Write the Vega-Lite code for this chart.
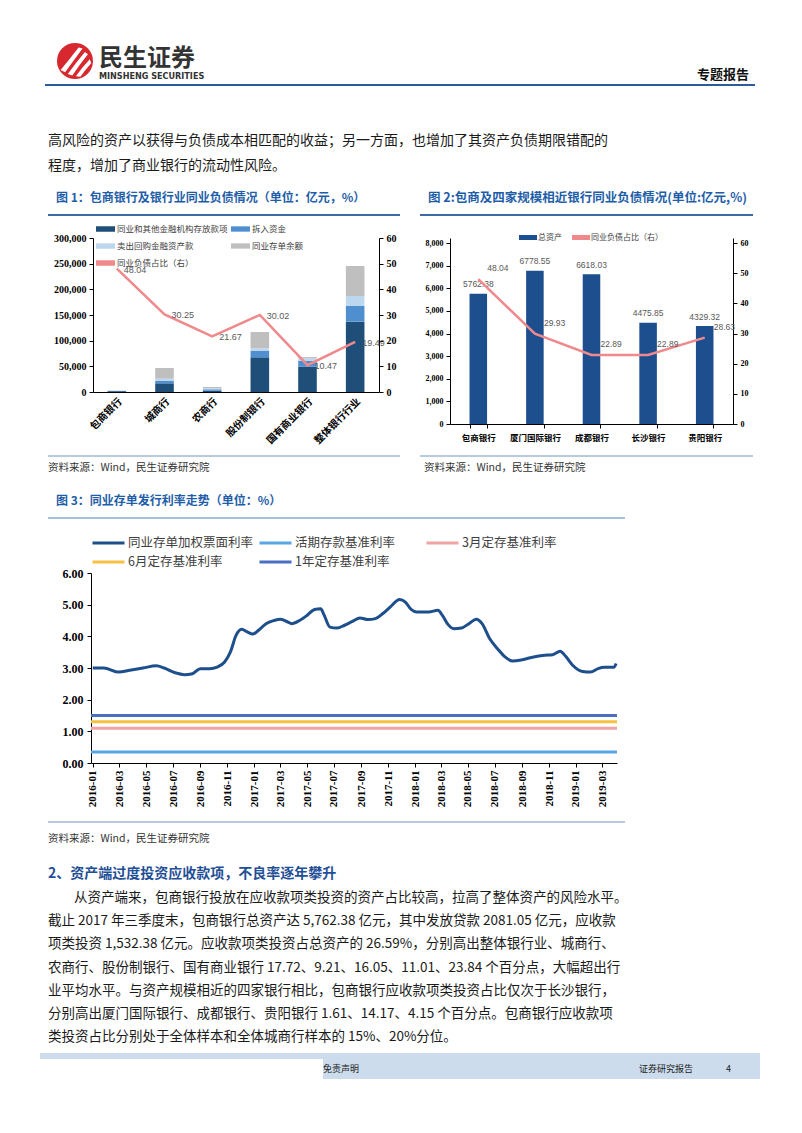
{
"$schema": "https://vega.github.io/schema/vega-lite/v6.json",
"background": "white",
"padding": 0,
"spacing": 0,
"resolve": {"scale": {"color": "independent"}, "legend": {"color": "independent"}},
"config": {"view": {"stroke": null}, "concat": {"spacing": 0}, "font": "Noto Sans CJK SC"},
"datasets": {
 "c1bars": [
  {"bank": "包商银行", "s": "同业和其他金融机构存放款项", "k": 1, "v": 1600},
  {"bank": "包商银行", "s": "拆入资金", "k": 2, "v": 500},
  {"bank": "包商银行", "s": "卖出回购金融资产款", "k": 3, "v": 400},
  {"bank": "包商银行", "s": "同业存单余额", "k": 4, "v": 270},
  {"bank": "城商行", "s": "同业和其他金融机构存放款项", "k": 1, "v": 16900},
  {"bank": "城商行", "s": "拆入资金", "k": 2, "v": 4500},
  {"bank": "城商行", "s": "卖出回购金融资产款", "k": 3, "v": 4500},
  {"bank": "城商行", "s": "同业存单余额", "k": 4, "v": 20800},
  {"bank": "农商行", "s": "同业和其他金融机构存放款项", "k": 1, "v": 2500},
  {"bank": "农商行", "s": "拆入资金", "k": 2, "v": 2700},
  {"bank": "农商行", "s": "卖出回购金融资产款", "k": 3, "v": 2000},
  {"bank": "农商行", "s": "同业存单余额", "k": 4, "v": 2500},
  {"bank": "股份制银行", "s": "同业和其他金融机构存放款项", "k": 1, "v": 67600},
  {"bank": "股份制银行", "s": "拆入资金", "k": 2, "v": 12300},
  {"bank": "股份制银行", "s": "卖出回购金融资产款", "k": 3, "v": 5200},
  {"bank": "股份制银行", "s": "同业存单余额", "k": 4, "v": 31800},
  {"bank": "国有商业银行", "s": "同业和其他金融机构存放款项", "k": 1, "v": 49300},
  {"bank": "国有商业银行", "s": "拆入资金", "k": 2, "v": 11700},
  {"bank": "国有商业银行", "s": "卖出回购金融资产款", "k": 3, "v": 4600},
  {"bank": "国有商业银行", "s": "同业存单余额", "k": 4, "v": 2500},
  {"bank": "整体银行行业", "s": "同业和其他金融机构存放款项", "k": 1, "v": 137000},
  {"bank": "整体银行行业", "s": "拆入资金", "k": 2, "v": 30500},
  {"bank": "整体银行行业", "s": "卖出回购金融资产款", "k": 3, "v": 19500},
  {"bank": "整体银行行业", "s": "同业存单余额", "k": 4, "v": 58500}
 ],
 "c1line": [
  {"bank": "包商银行", "p": 48.04},
  {"bank": "城商行", "p": 30.25},
  {"bank": "农商行", "p": 21.67},
  {"bank": "股份制银行", "p": 30.02},
  {"bank": "国有商业银行", "p": 10.47},
  {"bank": "整体银行行业", "p": 19.49}
 ],
 "c2": [
  {"bank": "包商银行", "a": 5762.38, "p": 48.04},
  {"bank": "厦门国际银行", "a": 6778.55, "p": 29.93},
  {"bank": "成都银行", "a": 6618.03, "p": 22.89},
  {"bank": "长沙银行", "a": 4475.85, "p": 22.89},
  {"bank": "贵阳银行", "a": 4329.32, "p": 28.63}
 ],
 "c3flat": [
  {"s": "活期存款基准利率", "r": 0.35},
  {"s": "3月定存基准利率", "r": 1.10},
  {"s": "6月定存基准利率", "r": 1.30},
  {"s": "1年定存基准利率", "r": 1.50}
 ],
 "c3line": [
  {"d": "2016-01-01", "r": 3.00}, {"d": "2016-01-26", "r": 3.00}, {"d": "2016-02-29", "r": 2.87},
  {"d": "2016-03-25", "r": 2.93}, {"d": "2016-04-24", "r": 3.00}, {"d": "2016-05-24", "r": 3.07},
  {"d": "2016-06-11", "r": 3.00}, {"d": "2016-07-06", "r": 2.85}, {"d": "2016-07-27", "r": 2.79},
  {"d": "2016-08-14", "r": 2.82}, {"d": "2016-09-01", "r": 2.98}, {"d": "2016-09-22", "r": 2.98},
  {"d": "2016-10-09", "r": 3.03}, {"d": "2016-10-26", "r": 3.19}, {"d": "2016-11-08", "r": 3.50},
  {"d": "2016-11-21", "r": 4.03}, {"d": "2016-12-04", "r": 4.22}, {"d": "2016-12-16", "r": 4.14},
  {"d": "2016-12-29", "r": 4.07}, {"d": "2017-01-11", "r": 4.19}, {"d": "2017-01-28", "r": 4.40},
  {"d": "2017-02-15", "r": 4.50}, {"d": "2017-03-02", "r": 4.54}, {"d": "2017-03-19", "r": 4.45},
  {"d": "2017-03-27", "r": 4.40}, {"d": "2017-04-14", "r": 4.50}, {"d": "2017-05-01", "r": 4.66},
  {"d": "2017-05-18", "r": 4.85}, {"d": "2017-06-01", "r": 4.87}, {"d": "2017-06-09", "r": 4.66},
  {"d": "2017-06-22", "r": 4.29}, {"d": "2017-07-08", "r": 4.26}, {"d": "2017-07-25", "r": 4.35},
  {"d": "2017-08-12", "r": 4.47}, {"d": "2017-08-29", "r": 4.58}, {"d": "2017-09-16", "r": 4.53},
  {"d": "2017-10-03", "r": 4.56}, {"d": "2017-10-20", "r": 4.72}, {"d": "2017-11-06", "r": 4.93},
  {"d": "2017-11-27", "r": 5.16}, {"d": "2017-12-10", "r": 5.08}, {"d": "2017-12-23", "r": 4.85},
  {"d": "2018-01-05", "r": 4.77}, {"d": "2018-02-01", "r": 4.77}, {"d": "2018-02-22", "r": 4.82},
  {"d": "2018-03-04", "r": 4.66}, {"d": "2018-03-17", "r": 4.37}, {"d": "2018-03-30", "r": 4.24},
  {"d": "2018-04-16", "r": 4.26}, {"d": "2018-05-03", "r": 4.40}, {"d": "2018-05-20", "r": 4.54},
  {"d": "2018-06-02", "r": 4.40}, {"d": "2018-06-19", "r": 3.93}, {"d": "2018-07-07", "r": 3.61},
  {"d": "2018-07-24", "r": 3.35}, {"d": "2018-08-10", "r": 3.22}, {"d": "2018-09-01", "r": 3.26},
  {"d": "2018-09-27", "r": 3.35}, {"d": "2018-10-22", "r": 3.40}, {"d": "2018-11-09", "r": 3.42},
  {"d": "2018-11-26", "r": 3.53}, {"d": "2018-12-08", "r": 3.38}, {"d": "2018-12-25", "r": 3.08},
  {"d": "2019-01-16", "r": 2.89}, {"d": "2019-02-03", "r": 2.87}, {"d": "2019-02-20", "r": 2.98},
  {"d": "2019-03-07", "r": 3.02}, {"d": "2019-03-28", "r": 3.02}, {"d": "2019-04-02", "r": 3.14}
 ]
},
"vconcat": [
 {"width": 802, "height": 38, "data": {"values": []}, "mark": "point"},
 {"bounds": "flush", "spacing": 0, "hconcat": [
   {"width": 57, "height": 46, "data": {"values": []}, "mark": "point"},
   {"width": 36, "height": 46, "data": {"values": [{"a": 1}]}, "layer": [
     {"mark": {"type": "point", "shape": "circle", "size": 1296, "filled": true, "color": "#d7282f", "opacity": 1, "strokeWidth": 0}},
     {"mark": {"type": "point", "shape": "M-0.8,0.5 Q-0.3,-0.1 0.2,-0.75 L0.42,-0.7 Q-0.1,0 -0.55,0.62 Z M-0.4,0.72 Q0.05,0.1 0.55,-0.5 L0.72,-0.38 Q0.25,0.2 -0.15,0.8 Z M0.05,0.85 Q0.4,0.35 0.82,-0.1 L0.9,0.12 Q0.55,0.5 0.3,0.88 Z", "size": 1296, "filled": true, "color": "#ffffff", "opacity": 1, "strokeWidth": 0}}
   ]},
   {"width": 6, "height": 46, "data": {"values": []}, "mark": "point"},
   {"width": 150, "height": 46, "layer": [
     {"data": {"values": [{"t": "民生证券"}]}, "mark": {"type": "text", "align": "left", "baseline": "middle", "dy": -2, "fontSize": 24, "fontWeight": "bold", "color": "#333333"}, "encoding": {"text": {"field": "t", "type": "nominal"}, "x": {"datum": 0, "scale": {"domain": [0, 1]}, "axis": null}}},
     {"data": {"values": [{"t": "MINSHENG SECURITIES"}]}, "mark": {"type": "text", "align": "left", "baseline": "middle", "dy": 15, "fontSize": 9, "fontWeight": "bold", "font": "Liberation Sans Narrow, DejaVu Sans Condensed, sans-serif", "color": "#333333"}, "encoding": {"text": {"field": "t", "type": "nominal"}, "x": {"datum": 0}}}
   ]},
   {"width": 448, "height": 46, "data": {"values": []}, "mark": "point"},
   {"width": 60, "height": 46, "data": {"values": [{"t": "专题报告"}]}, "mark": {"type": "text", "align": "left", "baseline": "middle", "dy": 14, "fontSize": 13, "fontWeight": "bold", "color": "#111111"}, "encoding": {"text": {"field": "t", "type": "nominal"}, "x": {"datum": 0, "scale": {"domain": [0, 1]}, "axis": null}}}
 ]},
 {"bounds": "flush", "spacing": 0, "hconcat": [
   {"width": 45, "height": 2, "data": {"values": []}, "mark": "point"},
   {"width": 710, "height": 2, "data": {"values": []}, "mark": "point", "view": {"fill": "#2c5b98", "stroke": null}}
 ]},
 {"width": 10, "height": 42, "data": {"values": []}, "mark": "point"},
 {"bounds": "flush", "spacing": 0, "hconcat": [
   {"width": 48, "height": 50, "data": {"values": []}, "mark": "point"},
   {"width": 720, "height": 50, "data": {"values": [
      {"t": "高风险的资产以获得与负债成本相匹配的收益；另一方面，也增加了其资产负债期限错配的"},
      {"t": "程度，增加了商业银行的流动性风险。"}
    ]},
    "mark": {"type": "text", "align": "left", "baseline": "middle", "fontSize": 14, "color": "#1a1a1a"},
    "encoding": {"text": {"field": "t", "type": "nominal"}, "x": {"datum": 0, "scale": {"domain": [0, 1]}, "axis": null}, "y": {"field": "t", "type": "nominal", "sort": null, "scale": {"type": "point", "padding": 0.5}, "axis": null}}}
 ]},
 {"width": 10, "height": 12, "data": {"values": []}, "mark": "point"},
 {"bounds": "flush", "spacing": 0, "hconcat": [
   {"width": 56, "height": 16, "data": {"values": []}, "mark": "point"},
   {"width": 372, "height": 16, "data": {"values": [{"t": "图 1：包商银行及银行业同业负债情况（单位：亿元，%）"}]}, "mark": {"type": "text", "align": "left", "baseline": "middle", "fontSize": 12, "fontWeight": "bold", "color": "#1e5ea8"}, "encoding": {"text": {"field": "t", "type": "nominal"}, "x": {"datum": 0, "scale": {"domain": [0, 1]}, "axis": null}}},
   {"width": 340, "height": 16, "data": {"values": [{"t": "图 2:包商及四家规模相近银行同业负债情况(单位:亿元,%)"}]}, "mark": {"type": "text", "align": "left", "baseline": "middle", "fontSize": 12.5, "fontWeight": "bold", "color": "#1e5ea8"}, "encoding": {"text": {"field": "t", "type": "nominal"}, "x": {"datum": 0, "scale": {"domain": [0, 1]}, "axis": null}}}
 ]},
 {"width": 10, "height": 8, "data": {"values": []}, "mark": "point"},
 {"bounds": "flush", "spacing": 0, "hconcat": [
   {"width": 48, "height": 2, "data": {"values": []}, "mark": "point"},
   {"width": 352, "height": 2, "data": {"values": []}, "mark": "point", "view": {"fill": "#3e6aa4", "stroke": null}},
   {"width": 20, "height": 2, "data": {"values": []}, "mark": "point"},
   {"width": 333, "height": 2, "data": {"values": []}, "mark": "point", "view": {"fill": "#3e6aa4", "stroke": null}}
 ]},
 {"width": 10, "height": 8, "data": {"values": []}, "mark": "point"},
 {"bounds": "flush", "spacing": 0, "resolve": {"scale": {"color": "independent"}, "legend": {"color": "independent"}}, "hconcat": [
   {"width": 93, "height": 186, "data": {"values": []}, "mark": "point"},
   {"width": 286, "height": 154,
    "layer": [
     {"data": {"name": "c1bars"},
      "mark": {"type": "bar"},
      "encoding": {
       "x": {"field": "bank", "type": "nominal", "sort": null, "scale": {"paddingInner": 0.61, "paddingOuter": 0.305},
             "axis": {"title": null, "labelAngle": -45, "labelFontSize": 10, "labelFontWeight": "bold", "labelColor": "#000000", "domainColor": "#000000", "ticks": false, "labelPadding": 4}},
       "y": {"field": "v", "type": "quantitative", "stack": "zero", "scale": {"domain": [0, 300000], "nice": false},
             "axis": {"title": null, "values": [0, 50000, 100000, 150000, 200000, 250000, 300000], "tickCount": 20, "format": ",d", "labelOverlap": false, "labelFont": "Liberation Serif", "labelFontWeight": "bold", "labelFontSize": 10, "labelColor": "#000000", "domainColor": "#000000", "tickColor": "#000000", "tickSize": 4, "grid": false, "labelPadding": 3}},
       "color": {"field": "s", "type": "nominal",
                 "scale": {"domain": ["同业和其他金融机构存放款项", "卖出回购金融资产款", "同业负债占比（右）", "拆入资金", "同业存单余额"], "range": ["#1f4e79", "#bdd7ee", "#f0898b", "#4f8fd0", "#bfbfbf"]},
                 "legend": {"orient": "none", "legendX": 3, "legendY": -14, "columns": 2, "symbolType": "M-1,-0.28H1V0.28H-1Z", "symbolSize": 361, "symbolStrokeWidth": 0, "labelFontSize": 8.5, "labelColor": "#404040", "labelOffset": 2, "columnPadding": 3, "rowPadding": 7, "clipHeight": 10, "title": null, "labelLimit": 0}},
       "order": {"field": "k", "type": "quantitative"}
      }},
     {"data": {"name": "c1line"},
      "layer": [
       {"mark": {"type": "line", "strokeWidth": 2.5},
        "encoding": {
         "x": {"field": "bank", "type": "nominal", "sort": null},
         "y": {"field": "p", "type": "quantitative", "scale": {"domain": [0, 60], "nice": false},
               "axis": {"orient": "right", "title": null, "values": [0, 10, 20, 30, 40, 50, 60], "tickCount": 20, "labelOverlap": false, "labelFont": "Liberation Serif", "labelFontWeight": "bold", "labelFontSize": 10, "labelColor": "#000000", "domainColor": "#000000", "tickColor": "#000000", "tickSize": 4, "grid": false, "labelPadding": 3}},
         "color": {"datum": "同业负债占比（右）", "legend": null}}},
       {"mark": {"type": "text", "align": "left", "baseline": "middle", "dx": 7, "dy": 1, "fontSize": 9, "font": "Liberation Sans", "color": "#595959"},
        "encoding": {
         "x": {"field": "bank", "type": "nominal", "sort": null},
         "y": {"field": "p", "type": "quantitative"},
         "text": {"field": "p", "type": "quantitative", "format": ".2f"}}}
      ]}
    ],
    "resolve": {"scale": {"y": "independent"}}
   },
   {"width": 71, "height": 186, "data": {"values": []}, "mark": "point"},
   {"width": 283, "height": 186,
    "data": {"name": "c2"},
    "layer": [
     {"layer": [
       {"mark": {"type": "bar"},
        "encoding": {
         "x": {"field": "bank", "type": "nominal", "sort": null, "scale": {"paddingInner": 0.69, "paddingOuter": 0.345},
               "axis": {"title": null, "labelAngle": 0, "labelFontSize": 8.5, "labelFontWeight": "bold", "labelColor": "#000000", "domainColor": "#000000", "tickColor": "#000000", "tickBand": "extent", "tickSize": 4, "labelPadding": 5}},
         "y": {"field": "a", "type": "quantitative", "scale": {"domain": [0, 8221], "nice": false},
               "axis": {"title": null, "values": [0, 1000, 2000, 3000, 4000, 5000, 6000, 7000, 8000], "tickCount": 20, "format": ",d", "labelOverlap": false, "labelFont": "Liberation Serif", "labelFontWeight": "bold", "labelFontSize": 8, "labelColor": "#000000", "domainColor": "#000000", "tickColor": "#000000", "tickSize": 4, "grid": false, "labelPadding": 3}},
         "color": {"datum": "总资产", "scale": {"domain": ["总资产", "同业负债占比（右）"], "range": ["#1d4f8f", "#f0898b"]},
                   "legend": {"orient": "none", "legendX": 69, "legendY": -5, "direction": "horizontal", "symbolType": "M-1,-0.28H1V0.28H-1Z", "symbolSize": 324, "symbolStrokeWidth": 0, "labelFontSize": 8, "labelColor": "#404040", "labelOffset": 1, "columnPadding": 10, "clipHeight": 9, "title": null, "labelLimit": 0}}
        }},
       {"mark": {"type": "text", "baseline": "middle", "dy": -9.5, "fontSize": 8.5, "font": "Liberation Sans", "color": "#595959"},
        "encoding": {
         "x": {"field": "bank", "type": "nominal", "sort": null},
         "y": {"field": "a", "type": "quantitative"},
         "text": {"field": "a", "type": "quantitative", "format": ".2f"}}}
     ]},
     {"layer": [
       {"mark": {"type": "line", "strokeWidth": 2.5},
        "encoding": {
         "x": {"field": "bank", "type": "nominal", "sort": null},
         "y": {"field": "p", "type": "quantitative", "scale": {"domain": [0, 61.66], "nice": false},
               "axis": {"orient": "right", "title": null, "values": [0, 10, 20, 30, 40, 50, 60], "tickCount": 20, "labelOverlap": false, "labelFont": "Liberation Serif", "labelFontWeight": "bold", "labelFontSize": 8, "labelColor": "#000000", "domainColor": "#000000", "tickColor": "#000000", "tickSize": 4, "grid": false, "labelPadding": 3}},
         "color": {"datum": "同业负债占比（右）", "legend": null}}},
       {"mark": {"type": "text", "align": "left", "baseline": "middle", "dx": 9, "dy": -11, "fontSize": 8.5, "font": "Liberation Sans", "color": "#595959"},
        "encoding": {
         "x": {"field": "bank", "type": "nominal", "sort": null},
         "y": {"field": "p", "type": "quantitative"},
         "text": {"field": "p", "type": "quantitative", "format": ".2f"}}}
     ]}
    ],
    "resolve": {"scale": {"y": "independent"}}
   }
 ]},
 {"width": 10, "height": 9, "data": {"values": []}, "mark": "point"},
 {"bounds": "flush", "spacing": 0, "hconcat": [
   {"width": 48, "height": 2, "data": {"values": []}, "mark": "point"},
   {"width": 352, "height": 2, "data": {"values": []}, "mark": "point", "view": {"fill": "#b9cadf", "stroke": null}},
   {"width": 20, "height": 2, "data": {"values": []}, "mark": "point"},
   {"width": 333, "height": 2, "data": {"values": []}, "mark": "point", "view": {"fill": "#b9cadf", "stroke": null}}
 ]},
 {"width": 10, "height": 3, "data": {"values": []}, "mark": "point"},
 {"bounds": "flush", "spacing": 0, "hconcat": [
   {"width": 48, "height": 16, "data": {"values": []}, "mark": "point"},
   {"width": 376, "height": 16, "data": {"values": [{"t": "资料来源：Wind，民生证券研究院"}]}, "mark": {"type": "text", "align": "left", "baseline": "middle", "fontSize": 10.5, "color": "#333333"}, "encoding": {"text": {"field": "t", "type": "nominal"}, "x": {"datum": 0, "scale": {"domain": [0, 1]}, "axis": null}}},
   {"width": 300, "height": 16, "data": {"values": [{"t": "资料来源：Wind，民生证券研究院"}]}, "mark": {"type": "text", "align": "left", "baseline": "middle", "fontSize": 10.5, "color": "#333333"}, "encoding": {"text": {"field": "t", "type": "nominal"}, "x": {"datum": 0, "scale": {"domain": [0, 1]}, "axis": null}}}
 ]},
 {"width": 10, "height": 17, "data": {"values": []}, "mark": "point"},
 {"bounds": "flush", "spacing": 0, "hconcat": [
   {"width": 56, "height": 16, "data": {"values": []}, "mark": "point"},
   {"width": 400, "height": 16, "data": {"values": [{"t": "图 3：同业存单发行利率走势（单位：%）"}]}, "mark": {"type": "text", "align": "left", "baseline": "middle", "fontSize": 12, "fontWeight": "bold", "color": "#1e5ea8"}, "encoding": {"text": {"field": "t", "type": "nominal"}, "x": {"datum": 0, "scale": {"domain": [0, 1]}, "axis": null}}}
 ]},
 {"width": 10, "height": 8, "data": {"values": []}, "mark": "point"},
 {"bounds": "flush", "spacing": 0, "hconcat": [
   {"width": 48, "height": 2, "data": {"values": []}, "mark": "point"},
   {"width": 577, "height": 2, "data": {"values": []}, "mark": "point", "view": {"fill": "#a7bfdb", "stroke": null}}
 ]},
 {"width": 10, "height": 17, "data": {"values": []}, "mark": "point"},
 {"bounds": "flush", "spacing": 0, "resolve": {"scale": {"color": "independent"}, "legend": {"color": "independent"}}, "hconcat": [
   {"width": 91, "height": 190, "data": {"values": []}, "mark": "point"},
   {"width": 526, "height": 190,
    "layer": [
     {"data": {"name": "c3flat"},
      "mark": {"type": "rule", "strokeWidth": 3},
      "encoding": {
       "y": {"field": "r", "type": "quantitative", "scale": {"domain": [0, 6], "nice": false},
             "axis": {"title": null, "values": [0, 1, 2, 3, 4, 5, 6], "tickCount": 20, "format": ".2f", "labelOverlap": false, "labelFont": "Liberation Serif", "labelFontWeight": "bold", "labelFontSize": 12, "labelColor": "#000000", "domainColor": "#000000", "tickColor": "#000000", "tickSize": 4, "grid": false, "labelPadding": 4}},
       "color": {"field": "s", "type": "nominal",
                 "scale": {"domain": ["同业存单加权票面利率", "6月定存基准利率", "活期存款基准利率", "1年定存基准利率", "3月定存基准利率"], "range": ["#1c4f8c", "#f5c242", "#5aa5e6", "#4a6fc0", "#f2a3a3"]},
                 "legend": {"orient": "none", "legendX": 0, "legendY": -37, "columns": 3, "gridAlign": "all", "symbolType": "stroke", "symbolSize": 1024, "symbolStrokeWidth": 3, "labelFontSize": 12.5, "labelColor": "#404040", "labelOffset": 2, "columnPadding": 4, "rowPadding": 5, "clipHeight": 14, "title": null, "labelLimit": 0}}}},
     {"data": {"name": "c3line"},
      "mark": {"type": "line", "strokeWidth": 3, "interpolate": "monotone"},
      "encoding": {
       "x": {"field": "d", "type": "temporal",
             "scale": {"type": "utc", "domain": [{"year": 2015, "month": 12, "date": 28, "utc": true}, {"year": 2019, "month": 4, "date": 4, "utc": true}]},
             "axis": {"title": null, "tickCount": {"interval": "month", "step": 2}, "format": "%Y-%m", "labelAngle": -90, "labelFont": "Liberation Serif", "labelFontWeight": "bold", "labelFontSize": 11, "labelColor": "#000000", "domainColor": "#000000", "tickColor": "#000000", "tickSize": 4, "grid": false, "labelPadding": 3, "labelOverlap": false, "labelFlush": false}},
       "y": {"field": "r", "type": "quantitative"},
       "color": {"datum": "同业存单加权票面利率", "legend": null}
      }}
    ]
   }
 ]},
 {"width": 10, "height": 14, "data": {"values": []}, "mark": "point"},
 {"bounds": "flush", "spacing": 0, "hconcat": [
   {"width": 48, "height": 2, "data": {"values": []}, "mark": "point"},
   {"width": 577, "height": 2, "data": {"values": []}, "mark": "point", "view": {"fill": "#b9cadf", "stroke": null}}
 ]},
 {"width": 10, "height": 8, "data": {"values": []}, "mark": "point"},
 {"bounds": "flush", "spacing": 0, "hconcat": [
   {"width": 48, "height": 16, "data": {"values": []}, "mark": "point"},
   {"width": 400, "height": 16, "data": {"values": [{"t": "资料来源：Wind，民生证券研究院"}]}, "mark": {"type": "text", "align": "left", "baseline": "middle", "fontSize": 10.5, "color": "#333333"}, "encoding": {"text": {"field": "t", "type": "nominal"}, "x": {"datum": 0, "scale": {"domain": [0, 1]}, "axis": null}}}
 ]},
 {"width": 10, "height": 19, "data": {"values": []}, "mark": "point"},
 {"bounds": "flush", "spacing": 0, "hconcat": [
   {"width": 48, "height": 16, "data": {"values": []}, "mark": "point"},
   {"width": 500, "height": 16, "data": {"values": [{"t": "2、资产端过度投资应收款项，不良率逐年攀升"}]}, "mark": {"type": "text", "align": "left", "baseline": "middle", "fontSize": 14, "fontWeight": "bold", "color": "#1f4f96"}, "encoding": {"text": {"field": "t", "type": "nominal"}, "x": {"datum": 0, "scale": {"domain": [0, 1]}, "axis": null}}}
 ]},
 {"width": 10, "height": 4, "data": {"values": []}, "mark": "point"},
 {"bounds": "flush", "spacing": 0, "hconcat": [
   {"width": 48, "height": 163, "data": {"values": []}, "mark": "point"},
   {"width": 720, "height": 163,
    "layer": [
     {"data": {"values": [
        {"t": "从资产端来，包商银行投放在应收款项类投资的资产占比较高，拉高了整体资产的风险水平。"}
      ]},
      "mark": {"type": "text", "align": "left", "baseline": "middle", "dx": 26, "fontSize": 13.5, "color": "#1a1a1a"},
      "encoding": {"text": {"field": "t", "type": "nominal"}, "x": {"datum": 0, "scale": {"domain": [0, 1]}, "axis": null},
                   "y": {"field": "t", "type": "nominal", "sort": null, "scale": {"type": "point", "padding": 0.5}, "axis": null}}},
     {"data": {"values": [
        {"t": "截止 2017 年三季度末，包商银行总资产达 5,762.38 亿元，其中发放贷款 2081.05 亿元，应收款"},
        {"t": "项类投资 1,532.38 亿元。应收款项类投资占总资产的 26.59%，分别高出整体银行业、城商行、"},
        {"t": "农商行、股份制银行、国有商业银行 17.72、9.21、16.05、11.01、23.84 个百分点，大幅超出行"},
        {"t": "业平均水平。与资产规模相近的四家银行相比，包商银行应收款项类投资占比仅次于长沙银行，"},
        {"t": "分别高出厦门国际银行、成都银行、贵阳银行 1.61、14.17、4.15 个百分点。包商银行应收款项"},
        {"t": "类投资占比分别处于全体样本和全体城商行样本的 15%、20%分位。"}
      ]},
      "mark": {"type": "text", "align": "left", "baseline": "middle", "fontSize": 13.5, "color": "#1a1a1a"},
      "encoding": {"text": {"field": "t", "type": "nominal"}, "x": {"datum": 0},
                   "y": {"field": "t", "type": "nominal", "sort": null}}}
    ]}
 ]},
 {"width": 10, "height": 4, "data": {"values": []}, "mark": "point"},
 {"bounds": "flush", "spacing": 0, "hconcat": [
   {"width": 40, "height": 6, "data": {"values": []}, "mark": "point"},
   {"width": 720, "height": 6, "data": {"values": []}, "mark": "point", "view": {"fill": "#ccdcec", "stroke": null}}
 ]},
 {"bounds": "flush", "spacing": 0, "hconcat": [
   {"width": 323, "height": 20, "data": {"values": []}, "mark": "point"},
   {"width": 40, "height": 20, "view": {"fill": "#ccdcec", "stroke": null}, "data": {"values": [{"t": "免责声明"}]}, "mark": {"type": "text", "align": "left", "baseline": "middle", "fontSize": 9, "color": "#222222"}, "encoding": {"text": {"field": "t", "type": "nominal"}, "x": {"datum": 0, "scale": {"domain": [0, 1]}, "axis": null}}},
   {"width": 276, "height": 20, "data": {"values": []}, "mark": "point", "view": {"fill": "#ccdcec", "stroke": null}},
   {"width": 77, "height": 20, "view": {"fill": "#ccdcec", "stroke": null}, "data": {"values": [{"t": "证券研究报告"}]}, "mark": {"type": "text", "align": "left", "baseline": "middle", "fontSize": 9, "color": "#222222"}, "encoding": {"text": {"field": "t", "type": "nominal"}, "x": {"datum": 0, "scale": {"domain": [0, 1]}, "axis": null}}},
   {"width": 44, "height": 20, "view": {"fill": "#ccdcec", "stroke": null}, "data": {"values": [{"t": "4"}]}, "mark": {"type": "text", "align": "left", "baseline": "middle", "dx": 10, "fontSize": 9, "color": "#222222"}, "encoding": {"text": {"field": "t", "type": "nominal"}, "x": {"datum": 0, "scale": {"domain": [0, 1]}, "axis": null}}}
 ]}
]
}
